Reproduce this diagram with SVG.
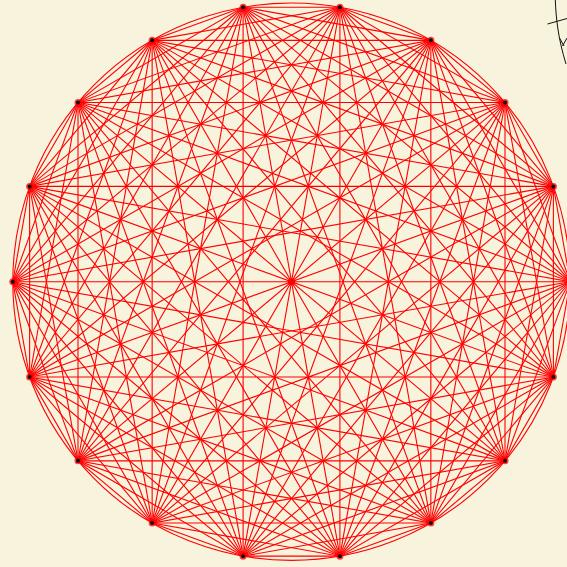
<svg xmlns="http://www.w3.org/2000/svg" width="567" height="567" viewBox="0 0 567 567">
<style>
.c{fill:none;stroke:#ff0000;stroke-width:1.1;stroke-linejoin:miter;stroke-miterlimit:50}
.halo{fill:#ff0000;fill-opacity:0.75}
.dot{fill:#111}
.ink{fill:none;stroke:#111;stroke-width:1}
</style>
<rect width="567" height="567" fill="#f8f3dc"/>
<g id="connectors">
<circle class="c" cx="291.5" cy="281.7" r="278.7"/>
<polygon class="c" points="570.2,281.7 553.39,186.38 505,102.55 430.85,40.34 339.9,7.23 243.1,7.23 152.15,40.34 78,102.55 29.61,186.38 12.8,281.7 29.61,377.02 78,460.85 152.15,523.06 243.1,556.17 339.9,556.17 430.85,523.06 505,460.85 553.39,377.02"/>
<polygon class="c" points="570.2,281.7 505,102.55 339.9,7.23 152.15,40.34 29.61,186.38 29.61,377.02 152.15,523.06 339.9,556.17 505,460.85"/>
<polygon class="c" points="553.39,186.38 430.85,40.34 243.1,7.23 78,102.55 12.8,281.7 78,460.85 243.1,556.17 430.85,523.06 553.39,377.02"/>
<polygon class="c" points="570.2,281.7 430.85,40.34 152.15,40.34 12.8,281.7 152.15,523.06 430.85,523.06"/>
<polygon class="c" points="553.39,186.38 339.9,7.23 78,102.55 29.61,377.02 243.1,556.17 505,460.85"/>
<polygon class="c" points="505,102.55 243.1,7.23 29.61,186.38 78,460.85 339.9,556.17 553.39,377.02"/>
<polygon class="c" points="570.2,281.7 339.9,7.23 29.61,186.38 152.15,523.06 505,460.85 505,102.55 152.15,40.34 29.61,377.02 339.9,556.17"/>
<polygon class="c" points="553.39,186.38 243.1,7.23 12.8,281.7 243.1,556.17 553.39,377.02 430.85,40.34 78,102.55 78,460.85 430.85,523.06"/>
<polygon class="c" points="570.2,281.7 243.1,7.23 29.61,377.02 430.85,523.06 505,102.55 78,102.55 152.15,523.06 553.39,377.02 339.9,7.23 12.8,281.7 339.9,556.17 553.39,186.38 152.15,40.34 78,460.85 505,460.85 430.85,40.34 29.61,186.38 243.1,556.17"/>
<polygon class="c" points="570.2,281.7 78,102.55 339.9,556.17 430.85,40.34 29.61,377.02 553.39,377.02 152.15,40.34 243.1,556.17 505,102.55 12.8,281.7 505,460.85 243.1,7.23 152.15,523.06 553.39,186.38 29.61,186.38 430.85,523.06 339.9,7.23 78,460.85"/>
<polygon class="c" points="570.2,281.7 152.15,40.34 152.15,523.06"/>
<polygon class="c" points="553.39,186.38 78,102.55 243.1,556.17"/>
<polygon class="c" points="505,102.55 29.61,186.38 339.9,556.17"/>
<polygon class="c" points="430.85,40.34 12.8,281.7 430.85,523.06"/>
<polygon class="c" points="339.9,7.23 29.61,377.02 505,460.85"/>
<polygon class="c" points="243.1,7.23 78,460.85 553.39,377.02"/>
<polygon class="c" points="570.2,281.7 29.61,186.38 505,460.85 152.15,40.34 339.9,556.17 339.9,7.23 152.15,523.06 505,102.55 29.61,377.02"/>
<polygon class="c" points="553.39,186.38 12.8,281.7 553.39,377.02 78,102.55 430.85,523.06 243.1,7.23 243.1,556.17 430.85,40.34 78,460.85"/>
<path class="c" d="M570.2,281.7L12.8,281.7M553.39,186.38L29.61,377.02M505,102.55L78,460.85M430.85,40.34L152.15,523.06M339.9,7.23L243.1,556.17M243.1,7.23L339.9,556.17M152.15,40.34L430.85,523.06M78,102.55L505,460.85M29.61,186.38L553.39,377.02"/>
</g>
<g id="nodes">
<g id="n0"><circle class="halo" cx="570.2" cy="281.7" r="3.5"/><circle class="dot" cx="570.2" cy="281.7" r="2"/></g>
<g id="n1"><circle class="halo" cx="553.39" cy="186.38" r="3.5"/><circle class="dot" cx="553.39" cy="186.38" r="2"/></g>
<g id="n2"><circle class="halo" cx="505" cy="102.55" r="3.5"/><circle class="dot" cx="505" cy="102.55" r="2"/></g>
<g id="n3"><circle class="halo" cx="430.85" cy="40.34" r="3.5"/><circle class="dot" cx="430.85" cy="40.34" r="2"/></g>
<g id="n4"><circle class="halo" cx="339.9" cy="7.23" r="3.5"/><circle class="dot" cx="339.9" cy="7.23" r="2"/></g>
<g id="n5"><circle class="halo" cx="243.1" cy="7.23" r="3.5"/><circle class="dot" cx="243.1" cy="7.23" r="2"/></g>
<g id="n6"><circle class="halo" cx="152.15" cy="40.34" r="3.5"/><circle class="dot" cx="152.15" cy="40.34" r="2"/></g>
<g id="n7"><circle class="halo" cx="78" cy="102.55" r="3.5"/><circle class="dot" cx="78" cy="102.55" r="2"/></g>
<g id="n8"><circle class="halo" cx="29.61" cy="186.38" r="3.5"/><circle class="dot" cx="29.61" cy="186.38" r="2"/></g>
<g id="n9"><circle class="halo" cx="12.8" cy="281.7" r="3.5"/><circle class="dot" cx="12.8" cy="281.7" r="2"/></g>
<g id="n10"><circle class="halo" cx="29.61" cy="377.02" r="3.5"/><circle class="dot" cx="29.61" cy="377.02" r="2"/></g>
<g id="n11"><circle class="halo" cx="78" cy="460.85" r="3.5"/><circle class="dot" cx="78" cy="460.85" r="2"/></g>
<g id="n12"><circle class="halo" cx="152.15" cy="523.06" r="3.5"/><circle class="dot" cx="152.15" cy="523.06" r="2"/></g>
<g id="n13"><circle class="halo" cx="243.1" cy="556.17" r="3.5"/><circle class="dot" cx="243.1" cy="556.17" r="2"/></g>
<g id="n14"><circle class="halo" cx="339.9" cy="556.17" r="3.5"/><circle class="dot" cx="339.9" cy="556.17" r="2"/></g>
<g id="n15"><circle class="halo" cx="430.85" cy="523.06" r="3.5"/><circle class="dot" cx="430.85" cy="523.06" r="2"/></g>
<g id="n16"><circle class="halo" cx="505" cy="460.85" r="3.5"/><circle class="dot" cx="505" cy="460.85" r="2"/></g>
<g id="n17"><circle class="halo" cx="553.39" cy="377.02" r="3.5"/><circle class="dot" cx="553.39" cy="377.02" r="2"/></g>
</g>
<g id="corner-sketch">
<path class="ink" d="M555.3,0 C556,18 558,38 566,64"/>
<path class="ink" d="M547.5,24 L567,18.5"/>
<path class="ink" d="M559.5,38 L564,46 M562.5,46 L567,38"/>
</g>
</svg>
